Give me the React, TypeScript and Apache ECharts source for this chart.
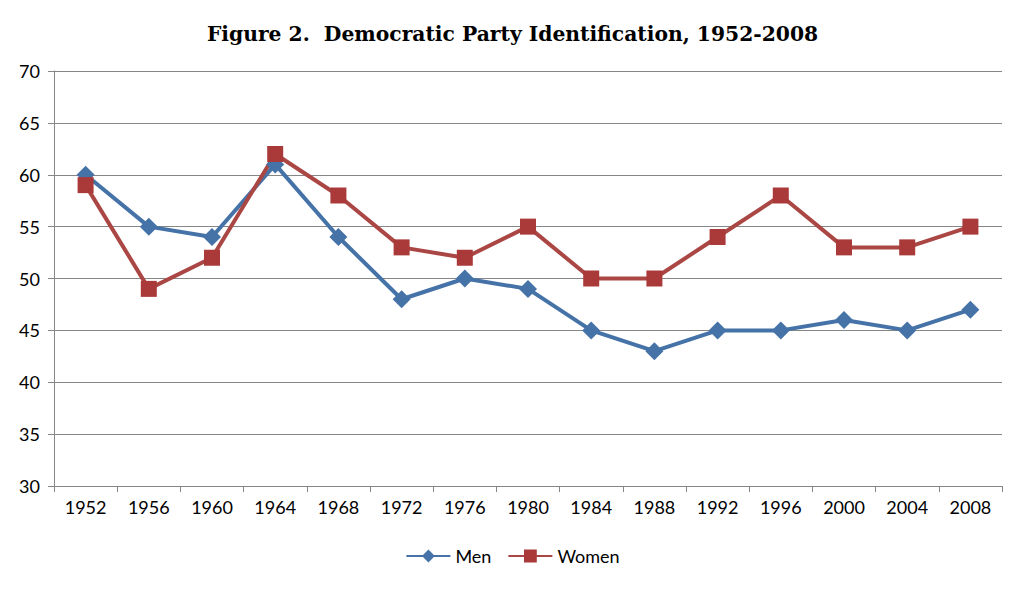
import React, { useEffect, useRef } from "react";
import * as echarts from "echarts";

const years = ["1952","1956","1960","1964","1968","1972","1976","1980","1984","1988","1992","1996","2000","2004","2008"];
const men = [60, 55, 54, 61, 54, 48, 50, 49, 45, 43, 45, 45, 46, 45, 47];
const women = [59, 49, 52, 62, 58, 53, 52, 55, 50, 50, 54, 58, 53, 53, 55];

export default function App() {
  const ref = useRef<HTMLDivElement>(null);
  useEffect(() => {
    const chart = echarts.init(ref.current!, null, { renderer: "svg" });
    const font = "Lato, 'Open Sans', sans-serif";
    chart.setOption({
      animation: false,
      backgroundColor: "#ffffff",
      title: {
        text: "Figure 2.  Democratic Party Identification, 1952-2008",
        left: "center",
        top: 19,
        textStyle: { fontFamily: "'DejaVu Serif', serif", fontWeight: "bold", fontSize: 20.3, color: "#000" },
      },
      legend: {
        bottom: 19,
        left: "center",
        itemWidth: 44,
        itemHeight: 16,
        itemGap: 16,
        textStyle: { fontFamily: font, fontSize: 18, color: "#000" },
        data: ["Men", "Women"],
      },
      grid: { left: 54, right: 23, top: 71, bottom: 103, containLabel: false },
      xAxis: {
        type: "category",
        data: years,
        boundaryGap: true,
        axisLine: { lineStyle: { color: "#868686", width: 1 } },
        axisTick: { show: true, length: 6, lineStyle: { color: "#868686" }, alignWithLabel: false },
        axisLabel: { fontFamily: font, fontSize: 18, color: "#000", margin: 12 },
      },
      yAxis: {
        type: "value",
        min: 30,
        max: 70,
        interval: 5,
        axisLine: { show: true, lineStyle: { color: "#868686", width: 1 } },
        axisTick: { show: true, length: 6, lineStyle: { color: "#868686" } },
        splitLine: { lineStyle: { color: "#868686", width: 1 } },
        axisLabel: { fontFamily: font, fontSize: 18, color: "#000", margin: 14 },
      },
      series: [
        {
          name: "Men",
          type: "line",
          data: men,
          symbol: "diamond",
          symbolSize: 18,
          lineStyle: { width: 4, color: "#4572A7" },
          itemStyle: { color: "#4572A7" },
        },
        {
          name: "Women",
          type: "line",
          data: women,
          symbol: "rect",
          symbolSize: 16,
          lineStyle: { width: 4, color: "#AA4643" },
          itemStyle: { color: "#AA3A3A" },
        },
      ],
    });
    return () => chart.dispose();
  }, []);
  return <div ref={ref} style={{ width: 1025, height: 589, position: "absolute", left: 0, top: 0 }} />;
}
